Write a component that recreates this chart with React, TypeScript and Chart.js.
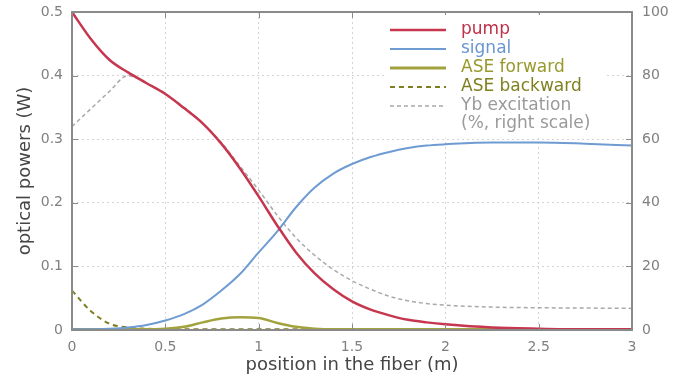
import React, { useEffect, useRef } from 'react';
import { Chart, registerables } from 'chart.js';

Chart.register(...registerables);

// position in the fiber (m)
const positions = [0, 0.1, 0.2, 0.3, 0.4, 0.5, 0.6, 0.7, 0.8, 0.9, 1.0, 1.1, 1.2, 1.3, 1.4, 1.5, 1.6, 1.7, 1.8, 1.9, 2.0, 2.25, 2.5, 2.75, 3.0];
// optical powers (W)
const pump = [0.5, 0.458, 0.425, 0.405, 0.388, 0.371, 0.349, 0.325, 0.293, 0.254, 0.21, 0.164, 0.122, 0.089, 0.064, 0.045, 0.032, 0.023, 0.016, 0.012, 0.009, 0.004, 0.002, 0.001, 0.001];
const signal = [0.001, 0.001, 0.002, 0.004, 0.008, 0.015, 0.025, 0.04, 0.062, 0.088, 0.122, 0.155, 0.193, 0.224, 0.246, 0.261, 0.272, 0.28, 0.286, 0.29, 0.292, 0.295, 0.295, 0.293, 0.29];
const aseForward = [0.001, 0.001, 0.001, 0.001, 0.001, 0.002, 0.005, 0.012, 0.018, 0.02, 0.019, 0.011, 0.005, 0.002, 0.001, 0.001, 0.001, 0.001, 0.001, 0.001, 0.001, 0.001, 0.001, 0.001, 0.001];
const aseBackward = [0.062, 0.03, 0.01, 0.004, 0.002, 0.001, 0.001, 0.001, 0.001, 0.001, 0.001, 0.001, 0.001, 0.001, 0.001, 0.001, 0.001, 0.001, 0.001, 0.001, 0.001, 0.001, 0.001, 0.001, 0.001];
// Yb excitation (%, right scale)
const ybExcitation = [64, 69.5, 75, 80, 77.5, 74.3, 70, 65, 59, 51.5, 44, 36, 29, 23.5, 19, 15.5, 12.8, 10.6, 9.2, 8.3, 7.8, 7.2, 7, 6.9, 6.8];

const xTicks = [0, 0.5, 1, 1.5, 2, 2.5, 3];
const legendLabels = ['pump', 'signal', 'ASE forward', 'ASE backward', 'Yb excitation', '(%, right scale)'];

const FONT = "'DejaVu Sans', sans-serif";
const COLORS = {
  pump: '#c6374f',
  signal: '#6e9bd2',
  aseF: '#a2a23e',
  aseB: '#7f7f22',
  yb: '#a9a9a9',
};

const toPts = (ys: number[]) => positions.map((x, i) => ({ x, y: ys[i] }));

const framePlugin = {
  id: 'frame',
  afterDatasetsDraw(chart: any) {
    const { ctx, chartArea } = chart;
    const { left, right, top, bottom } = chartArea;
    const xs = chart.scales.x;
    const ys = chart.scales.y;
    ctx.save();
    ctx.strokeStyle = '#8a8a8a';
    ctx.lineWidth = 1;
    ctx.beginPath();
    xTicks.forEach((t) => {
      const px = Math.round(xs.getPixelForValue(t)) + 0.5;
      ctx.moveTo(px, bottom);
      ctx.lineTo(px, bottom - 6);
      ctx.moveTo(px, top);
      ctx.lineTo(px, top + 6);
    });
    ys.ticks.forEach((t: any) => {
      const py = Math.round(ys.getPixelForValue(t.value)) + 0.5;
      ctx.moveTo(left, py);
      ctx.lineTo(left + 6, py);
      ctx.moveTo(right, py);
      ctx.lineTo(right - 6, py);
    });
    ctx.stroke();
    ctx.restore();
  },
  afterDraw(chart: any) {
    const { ctx, chartArea } = chart;
    const { left, right, top, bottom } = chartArea;
    ctx.save();
    ctx.lineWidth = 2;
    ctx.strokeStyle = '#8a8a8a';
    ctx.strokeRect(left, top, right - left, bottom - top);
    ctx.restore();
  },
};

const legendItems = [
  { color: COLORS.pump, dash: [] as number[], width: 2.5, textColor: '#c0304a' },
  { color: COLORS.signal, dash: [] as number[], width: 2, textColor: '#6a96d0' },
  { color: COLORS.aseF, dash: [] as number[], width: 3, textColor: '#98982c' },
  { color: COLORS.aseB, dash: [5, 4], width: 2, textColor: '#808020' },
  { color: COLORS.yb, dash: [4, 3], width: 1.5, textColor: '#9a9a9a' },
];

const legendPlugin = {
  id: 'customLegend',
  afterDraw(chart: any) {
    const { ctx } = chart;
    ctx.save();
    ctx.fillStyle = '#ffffff';
    ctx.fillRect(386, 15, 218, 123);
    ctx.font = `17px ${FONT}`;
    ctx.textBaseline = 'middle';
    ctx.textAlign = 'left';
    const y0 = 30;
    const dy = 19;
    legendItems.forEach((it, i) => {
      const y = y0 + i * dy;
      ctx.beginPath();
      ctx.setLineDash(it.dash);
      ctx.strokeStyle = it.color;
      ctx.lineWidth = it.width;
      ctx.moveTo(390, y);
      ctx.lineTo(446, y);
      ctx.stroke();
      ctx.setLineDash([]);
      ctx.fillStyle = it.textColor;
      ctx.fillText(legendLabels[i], 461, y);
    });
    ctx.fillStyle = legendItems[4].textColor;
    ctx.fillText(legendLabels[5], 461, y0 + 5 * dy - 1);
    ctx.restore();
  },
};

export default function App() {
  const ref = useRef<HTMLCanvasElement | null>(null);

  useEffect(() => {
    if (!ref.current) return;
    const grid = {
      color: '#d4d4d4',
      lineWidth: 1,
      drawTicks: false,
    };
    const chart = new Chart(ref.current, {
      type: 'line',
      data: {
        datasets: [
          { label: legendLabels[0], data: toPts(pump), borderColor: COLORS.pump, borderWidth: 2.5, yAxisID: 'y' },
          { label: legendLabels[1], data: toPts(signal), borderColor: COLORS.signal, borderWidth: 2, yAxisID: 'y' },
          { label: legendLabels[2], data: toPts(aseForward), borderColor: COLORS.aseF, borderWidth: 2.5, yAxisID: 'y' },
          { label: legendLabels[3], data: toPts(aseBackward), borderColor: COLORS.aseB, borderWidth: 2, borderDash: [5, 4], yAxisID: 'y' },
          { label: legendLabels[4], data: toPts(ybExcitation), borderColor: COLORS.yb, borderWidth: 1.5, borderDash: [4, 3], yAxisID: 'y1' },
        ].map((d) => ({ ...d, pointRadius: 0, fill: false, cubicInterpolationMode: 'monotone' as const })),
      },
      options: {
        responsive: false,
        animation: false,
        events: [],
        layout: { padding: { top: 12, left: 0, right: 0, bottom: 0 } },
        plugins: { legend: { display: false }, tooltip: { enabled: false } },
        scales: {
          x: {
            type: 'linear',
            min: 0,
            max: 3,
            afterBuildTicks: (s: any) => { s.ticks = xTicks.map((v) => ({ value: v })); },
            afterFit: (s: any) => { s.height = 46; s.paddingLeft = 0; s.paddingRight = 0; },
            grid: grid as any,
            border: { display: false, dash: [2, 3] },
            ticks: { padding: 9, color: '#808080', font: { family: FONT, size: 14 }, maxRotation: 0, callback: (v: any) => String(Number(v)) },
            title: { display: true, text: 'position in the fiber (m)', color: '#454545', font: { family: FONT, size: 18 }, padding: { top: 0, bottom: 0 } },
          },
          y: {
            position: 'left',
            min: 0,
            max: 0.5,
            afterFit: (s: any) => { s.width = 72; s.paddingTop = 0; s.paddingBottom = 0; },
            grid: grid as any,
            border: { display: false, dash: [2, 3] },
            ticks: { stepSize: 0.1, padding: 9, color: '#808080', font: { family: FONT, size: 14 } },
            title: { display: true, text: 'optical powers (W)', color: '#454545', font: { family: FONT, size: 18 }, padding: { top: 15, bottom: 0 } },
          },
          y1: {
            position: 'right',
            min: 0,
            max: 100,
            afterFit: (s: any) => { s.width = 50; s.paddingTop = 0; s.paddingBottom = 0; },
            grid: { display: false, drawTicks: false },
            border: { display: false },
            ticks: { stepSize: 20, padding: 10, color: '#808080', font: { family: FONT, size: 14 } },
          },
        },
      },
      plugins: [framePlugin, legendPlugin],
    });
    return () => chart.destroy();
  }, []);

  return (
    <div style={{ position: 'absolute', left: 0, top: 0, width: 682, height: 376, background: '#fff' }}>
      <canvas ref={ref} width={682} height={376} style={{ display: 'block' }} />
    </div>
  );
}
